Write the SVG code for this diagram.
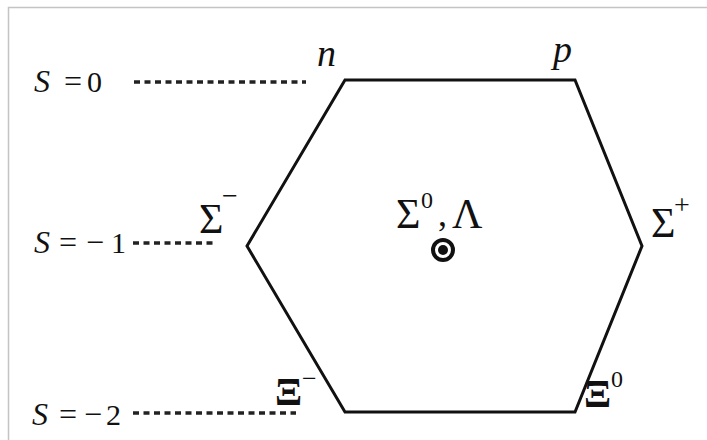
<svg xmlns="http://www.w3.org/2000/svg" width="707" height="440" viewBox="0 0 707 440">
<style>
.t{font-family:"Liberation Serif","DejaVu Serif",serif;fill:#111}
.i{font-style:italic}
.dot{stroke:#222;stroke-width:3.5;stroke-dasharray:6 4.5;fill:none}
.hex{stroke:#111;stroke-width:3;fill:none;stroke-linejoin:miter}
</style>
<rect width="707" height="440" fill="#fff"/>
<g id="frame" fill="none" stroke="#c4c4c4" stroke-width="1.5">
<path d="M8.5 440 V7.5 H707"/>
</g>
<g id="hexagon">
<polygon class="hex" points="345,80 575,80 642,246 575,412 345,412 247,246"/>
</g>
<g id="connectors">
<line class="dot" x1="134" y1="82" x2="306" y2="82"/>
<line class="dot" x1="133" y1="243" x2="217" y2="243"/>
<line class="dot" x1="133" y1="413" x2="296" y2="413"/>
</g>
<g id="level-s0">
<text class="t i" x="34" y="92" font-size="32">S</text>
<text class="t" x="64" y="92" font-size="32">=</text>
<text class="t" x="87" y="92" font-size="30">0</text>
</g>
<g id="level-s1">
<text class="t i" x="34" y="253" font-size="32">S</text>
<text class="t" x="59" y="253" font-size="32">=</text>
<text class="t" x="86" y="253" font-size="32">−</text>
<text class="t" x="111" y="253" font-size="30">1</text>
</g>
<g id="level-s2">
<text class="t i" x="32" y="425" font-size="32">S</text>
<text class="t" x="59" y="425" font-size="32">=</text>
<text class="t" x="84" y="425" font-size="32">−</text>
<text class="t" x="106" y="425" font-size="30">2</text>
</g>
<g id="node-n"><text class="t i" x="317" y="66" font-size="38">n</text></g>
<g id="node-p"><text class="t i" x="553" y="62" font-size="38">p</text></g>
<g id="node-sigma-minus">
<text class="t" x="199" y="233" font-size="42">Σ</text>
<text class="t" x="222" y="205" font-size="28">−</text>
</g>
<g id="node-sigma-plus">
<text class="t" x="651" y="237" font-size="42">Σ</text>
<text class="t" x="674" y="214" font-size="28">+</text>
</g>
<g id="node-center">
<text class="t" x="396" y="228" font-size="42">Σ</text>
<text class="t" x="421" y="208" font-size="24">0</text>
<text class="t" x="438" y="226" font-size="36">,</text>
<text class="t" x="452" y="228" font-size="42">Λ</text>
<circle cx="443" cy="250" r="10" fill="none" stroke="#111" stroke-width="4"/>
<circle cx="443" cy="250" r="5" fill="#111"/>
</g>
<g id="node-xi-minus">
<text class="t" x="275" y="405" font-size="40" font-weight="bold">Ξ</text>
<text class="t" x="302" y="387" font-size="26">−</text>
</g>
<g id="node-xi-zero">
<text class="t" x="584" y="407" font-size="40" font-weight="bold">Ξ</text>
<text class="t" x="611" y="387" font-size="24">0</text>
</g>
</svg>
